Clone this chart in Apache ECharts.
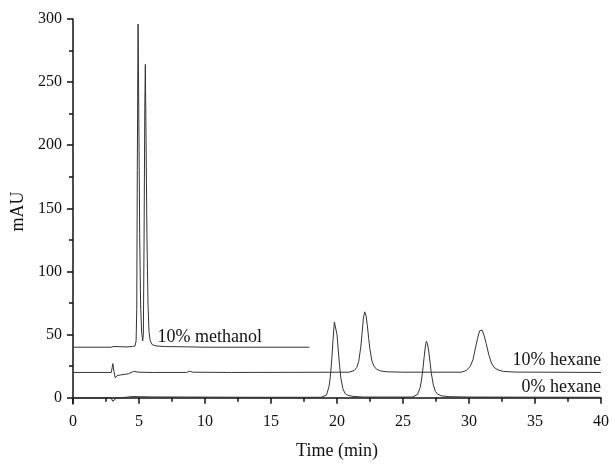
<!DOCTYPE html>
<html>
<head>
  <meta charset="utf-8">
  <title>Chromatograms</title>
  <script src="https://cdn.jsdelivr.net/npm/echarts@6/dist/echarts.min.js"></script>
  <style>
    html, body { margin: 0; padding: 0; background: #fff; }
    #chart { width: 612px; height: 465px; }
  </style>
</head>
<body>
<div id="chart"></div>
<script type="text/javascript">
// traces: [time (min), mAU as plotted]
var methanol10 = [
  [0, 40], [2.9, 40], [3.0, 39.3], [3.1, 40.6], [3.2, 40], [4.0, 40.2], [4.5, 40.5], [4.7, 41],
  [4.78, 45], [4.83, 70], [4.87, 180], [4.93, 296], [4.98, 230], [5.05, 130], [5.12, 75],
  [5.2, 52], [5.28, 45], [5.33, 50], [5.38, 120], [5.44, 230], [5.48, 264], [5.53, 210],
  [5.6, 130], [5.68, 75], [5.76, 52], [5.85, 45], [6.0, 42], [6.3, 41], [7, 40.5],
  [8.5, 40.3], [10, 40], [17.9, 40]
];
var hexane10 = [
  [0, 20], [2.9, 20], [2.97, 24], [3.02, 27], [3.1, 21], [3.2, 15.7], [3.35, 17.5], [3.6, 18],
  [4.2, 19], [4.6, 20.8], [4.75, 21.3], [5.0, 20.2], [6, 20], [8.6, 20], [8.83, 21], [9.05, 20.2],
  [12, 20], [20.9, 20.2], [21.3, 21.5], [21.5, 24], [21.65, 29], [21.8, 40], [21.9, 51],
  [22.0, 63], [22.1, 68], [22.2, 65], [22.3, 57], [22.4, 47], [22.5, 38], [22.65, 29],
  [22.8, 25], [23.0, 22.5], [23.3, 21.2], [23.8, 20.5], [25, 20.2], [29.4, 20.2],
  [29.8, 21.5], [30.1, 25], [30.3, 30], [30.5, 40], [30.65, 47], [30.8, 53], [30.9, 54.3],
  [31.0, 53.5], [31.15, 49], [31.3, 43], [31.5, 34], [31.7, 27.5], [31.9, 24], [32.2, 22],
  [32.6, 20.8], [33.5, 20.3], [40, 20]
];
var hexane0 = [
  [0, 0], [2.9, 0], [3.0, -2.8], [3.1, -1.5], [3.3, -0.3], [4.0, 0.3], [4.6, 1], [4.72, 1.8],
  [4.85, 0.8], [6, 0.6], [9, 0.5], [14, 0.3], [18.8, 0.3], [19.2, 2], [19.4, 9], [19.5, 17],
  [19.6, 30], [19.7, 46], [19.8, 60], [19.85, 61], [19.9, 59], [20.0, 50], [20.1, 37],
  [20.2, 25], [20.3, 15], [20.45, 7], [20.6, 3.5], [20.8, 2], [21.2, 1], [22, 0.5],
  [25.7, 0.5], [26.1, 2.5], [26.3, 8], [26.4, 14], [26.5, 22], [26.6, 32], [26.7, 41],
  [26.77, 44.6], [26.85, 43], [26.95, 37], [27.05, 28], [27.15, 19], [27.3, 10], [27.45, 5],
  [27.6, 3], [27.9, 1.5], [28.5, 0.8], [30, 0.5], [40, 0.3]
];
var yMajor = [0, 50, 100, 150, 200, 250, 300];
var yMinor = [25, 75, 125, 175, 225, 275];
// trace labels: text, anchor point, alignment
var traceLabels = [
  { text: '10% methanol', at: [6.4, 47.5], align: 'left' },
  { text: '10% hexane', at: [40, 29.4], align: 'right' },
  { text: '0% hexane', at: [40, 7.9], align: 'right' }
];

var FONT = '"Liberation Serif", "Times New Roman", serif';
var myChart = echarts.init(document.getElementById('chart'));

function trace(data) {
  return {
    type: 'line',
    data: data,
    showSymbol: false,
    clip: false,
    animation: false,
    lineStyle: { color: '#333', width: 1 }
  };
}

var option = {
  backgroundColor: '#fff',
  animation: false,
  grid: { left: 73, right: 9, top: 19, bottom: 59 },
  xAxis: {
    type: 'value',
    min: 0, max: 40, interval: 5,
    name: 'Time (min)',
    nameLocation: 'middle',
    nameGap: 38,
    nameTextStyle: { fontFamily: FONT, fontSize: 18, color: '#111' },
    axisLine: { lineStyle: { color: '#111', width: 1.5 } },
    axisTick: { inside: false, length: 6, lineStyle: { color: '#111', width: 1.5 } },
    minorTick: { show: true, splitNumber: 2, length: 4, lineStyle: { color: '#111', width: 1.5 } },
    axisLabel: { fontFamily: FONT, fontSize: 16, color: '#111', margin: 10 },
    splitLine: { show: false }
  },
  yAxis: [{
    type: 'value',
    min: -5, max: 300,
    name: 'mAU',
    nameLocation: 'middle',
    nameGap: 46,
    nameTextStyle: { fontFamily: FONT, fontSize: 18, color: '#111' },
    axisLine: { show: true, lineStyle: { color: '#111', width: 1.5 } },
    axisTick: { show: true, length: 6, customValues: yMajor, lineStyle: { color: '#111', width: 1.5 } },
    axisLabel: { fontFamily: FONT, fontSize: 16, color: '#111', margin: 11, customValues: yMajor },
    splitLine: { show: false }
  }, {
    type: 'value',
    position: 'left',
    min: -5, max: 300,
    axisLine: { show: false },
    axisTick: { show: true, length: 4, customValues: yMinor, lineStyle: { color: '#111', width: 1.5 } },
    axisLabel: { show: false },
    splitLine: { show: false }
  }],
  series: [trace(methanol10), trace(hexane10), trace(hexane0)]
};
myChart.setOption(option);

// place the trace labels at their data positions
var g = traceLabels.map(function (l) {
  var p = myChart.convertToPixel({ gridIndex: 0 }, l.at);
  return {
    type: 'text',
    x: p[0], y: p[1],
    style: {
      text: l.text,
      fontFamily: FONT,
      fontSize: 18,
      fill: '#111',
      align: l.align,
      verticalAlign: 'middle'
    }
  };
});
myChart.setOption({ graphic: g });
</script>
</body>
</html>
